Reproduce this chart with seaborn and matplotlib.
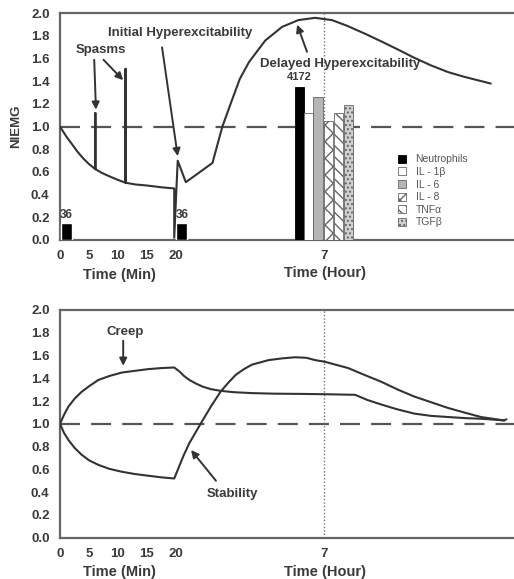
import numpy as np
import pandas as pd
import matplotlib
matplotlib.use("Agg")
import matplotlib.pyplot as plt
import seaborn as sns

# ---------------- data ----------------
# x axis: minutes 0-20, then hour scale; "7 h" sits at x = 45.6
top_x = [0, 1, 2, 3, 4, 5, 6.1, 6.1, 6.1, 7.3, 8.6, 10.0, 11.3, 11.3, 11.3, 13, 15.1, 17.5, 19.7,
         19.7, 20.3, 21.7, 26.3, 27.2, 28.0, 29.7, 31.0, 32.6, 35.4, 38.3, 41.1, 44.0, 46.9,
         49.5, 52.6, 55.5, 58.3, 61.0, 64.0, 67.0, 69.7, 72.0, 74.3]
top_y = [1.00, 0.92, 0.85, 0.78, 0.72, 0.67, 0.625, 1.12, 0.625, 0.59, 0.56, 0.53, 0.505, 1.51, 0.505,
         0.49, 0.48, 0.465, 0.455, 0.02, 0.70, 0.51, 0.68, 0.85, 1.00, 1.24, 1.42, 1.57, 1.76, 1.88, 1.94,
         1.96, 1.94, 1.89, 1.82, 1.75, 1.68, 1.61, 1.54, 1.48, 1.44, 1.41, 1.38]

creep_x = [0, 0.7, 1.43, 2.5, 3.7, 5.0, 6.6, 8.5, 10.6, 12.8, 15.1, 17.5, 19.7,
           20.6, 21.4, 22.3, 23.4, 24.6, 26.0, 27.7, 30.0, 33.1, 37.0, 41.7, 46.0, 50.9,
           53.0, 55.4, 58.0, 61.1, 64.0, 66.9, 70.0, 72.6, 76.6, 77.0]
creep_y = [1.00, 1.08, 1.15, 1.22, 1.28, 1.33, 1.385, 1.42, 1.45, 1.465, 1.48, 1.49, 1.495,
           1.46, 1.42, 1.386, 1.355, 1.327, 1.305, 1.29, 1.278, 1.27, 1.265, 1.263, 1.26, 1.255,
           1.21, 1.17, 1.13, 1.09, 1.07, 1.06, 1.05, 1.045, 1.03, 1.04]

stab_x = [0, 0.7, 1.43, 2.5, 3.7, 5.0, 6.6, 8.5, 10.6, 12.8, 15.1, 17.5, 19.7,
          20.3, 21.3, 22.3, 24.3, 26.0, 27.7, 29.0, 30.3, 31.7, 33.1, 36.0, 38.3, 40.6, 42.5,
          44.0, 45.7, 47.5, 49.7, 52.5, 55.4, 58.3, 61.1, 64.0, 66.9, 69.7, 72.6, 76.6]
stab_y = [1.00, 0.92, 0.86, 0.79, 0.73, 0.68, 0.64, 0.605, 0.58, 0.56, 0.545, 0.53, 0.52,
          0.595, 0.72, 0.83, 1.005, 1.15, 1.283, 1.36, 1.43, 1.48, 1.52, 1.56, 1.575, 1.585, 1.58,
          1.56, 1.545, 1.52, 1.49, 1.43, 1.37, 1.30, 1.24, 1.19, 1.14, 1.10, 1.06, 1.03]

bar_labels = ["Neutrophils", "IL - 1\u03b2", "IL - 6", "IL - 8", "TNF\u03b1", "TGF\u03b2"]
bar_x = [41.25, 42.85, 44.5, 46.35, 48.0, 49.75]
bar_h = [1.35, 1.12, 1.26, 1.05, 1.12, 1.19]
early_bar_x = [1.1, 21.0]
early_bar_h = [0.15, 0.15]

xtick_pos = [0, 5, 10, 15, 20, 45.6]
xtick_lab = ["0", "5", "10", "15", "20", "7"]
ytick_pos = [0.0, 0.2, 0.4, 0.6, 0.8, 1.0, 1.2, 1.4, 1.6, 1.8, 2.0]

# ---------------- style ----------------
sns.set_style("white")
plt.rcParams["font.family"] = ["Liberation Sans", "DejaVu Sans"]
TXT = "#3a3a3a"
LINE = "#333333"

W, H = 514, 579
fig = plt.figure(figsize=(W / 100, H / 100), dpi=100)

def fx(px):
    return px / W

def fy(py):
    return 1 - py / H

ax1 = fig.add_axes([fx(60), fy(240), 1 - fx(60), fy(13.3) - fy(240)])
ax2 = fig.add_axes([fx(60), fy(537.7), 1 - fx(60), fy(310) - fy(537.7)])

for ax in (ax1, ax2):
    ax.set_xlim(0, 78.3)
    ax.set_ylim(0, 2.0)
    ax.set_yticks(ytick_pos)
    ax.set_yticklabels([f"{v:.1f}" for v in ytick_pos])
    ax.set_xticks(xtick_pos)
    ax.set_xticklabels(xtick_lab)
    ax.tick_params(axis="both", direction="out", length=3, width=1, colors="#555555",
                   labelcolor=TXT, labelsize=9.5, pad=4.5)
    for lab in ax.get_xticklabels() + ax.get_yticklabels():
        lab.set_fontweight("bold")
    for s in ["top", "bottom", "left"]:
        ax.spines[s].set_color("#666666")
        ax.spines[s].set_linewidth(1.6)
    ax.spines["right"].set_visible(False)
    ax.axhline(1.0, color="#555555", lw=1.6, dashes=(9, 5), zorder=1)
    ax.axvline(45.6, color="#777777", lw=1.0, ls=(0, (1, 1.5)), zorder=1)

# ---------------- top panel ----------------
top_df = pd.DataFrame({"x": top_x, "y": top_y})
sns.lineplot(data=top_df, x="x", y="y", sort=False, estimator=None, ax=ax1,
             color=LINE, lw=1.5, zorder=4)

ax1.bar(early_bar_x, early_bar_h, width=1.9, color="black", zorder=3)
for bx, bh in zip(early_bar_x, early_bar_h):
    ax1.text(bx, bh + 0.02, "36", ha="center", va="bottom", fontsize=8.5,
             color=TXT, fontweight="bold")

faces = ["black", "white", "#b5b5b5", "white", "white", "#d0d0d0"]
hatches = [None, None, None, "xx", "\\\\\\", "...."]
for i, (bx, bh) in enumerate(zip(bar_x, bar_h)):
    ax1.bar(bx, bh, width=1.6, color=faces[i], edgecolor="#666666" if i else "black",
            hatch=hatches[i], lw=0.6, zorder=3, label=bar_labels[i])
ax1.text(bar_x[0], bar_h[0] + 0.04, "4172", ha="center", va="bottom", fontsize=8,
         color=TXT, fontweight="bold")

leg = ax1.legend(loc="upper left", bbox_to_anchor=(0.728, 0.41), frameon=False,
                 fontsize=7.5, handlelength=0.8, handleheight=0.8, labelspacing=0.25,
                 handletextpad=0.9, borderpad=0.2)
for t in leg.get_texts():
    t.set_color("#555555")

arrow = dict(arrowstyle="-|>", color=LINE, lw=1.4, mutation_scale=11, shrinkA=0, shrinkB=0)
ax1.text(7.0, 1.62, "Spasms", ha="center", va="bottom", fontsize=9.5, fontweight="bold", color=TXT)
ax1.annotate("", xy=(6.2, 1.15), xytext=(5.9, 1.59), arrowprops=arrow)
ax1.annotate("", xy=(10.9, 1.41), xytext=(7.5, 1.59), arrowprops=arrow)
ax1.text(20.8, 1.77, "Initial Hyperexcitability", ha="center", va="bottom", fontsize=9.5,
         fontweight="bold", color=TXT)
ax1.annotate("", xy=(20.3, 0.74), xytext=(17.6, 1.70), arrowprops=arrow)
ax1.text(48.3, 1.50, "Delayed Hyperexcitability", ha="center", va="bottom", fontsize=9.5,
         fontweight="bold", color=TXT)
ax1.annotate("", xy=(40.9, 1.90), xytext=(42.6, 1.66), arrowprops=arrow)

ax1.text(-7.5, 1.0, "NIEMG", rotation=90, ha="center", va="center", fontsize=9.5,
         fontweight="bold", color=TXT)

fig.text(fx(119), fy(275), "Time (Min)", ha="center", va="center", fontsize=10.5,
         fontweight="bold", color=TXT)
fig.text(fx(325), fy(273), "Time (Hour)", ha="center", va="center", fontsize=10.5,
         fontweight="bold", color=TXT)

# ---------------- bottom panel ----------------
creep_df = pd.DataFrame({"x": creep_x, "y": creep_y})
stab_df = pd.DataFrame({"x": stab_x, "y": stab_y})
sns.lineplot(data=creep_df, x="x", y="y", sort=False, estimator=None, ax=ax2,
             color=LINE, lw=1.5, zorder=4)
sns.lineplot(data=stab_df, x="x", y="y", sort=False, estimator=None, ax=ax2,
             color=LINE, lw=1.5, zorder=4)
for ax in (ax1, ax2):
    ax.set_xlabel("")
    ax.set_ylabel("")

ax2.text(11.3, 1.75, "Creep", ha="center", va="bottom", fontsize=9.5, fontweight="bold", color=TXT)
ax2.annotate("", xy=(10.9, 1.51), xytext=(10.9, 1.73), arrowprops=arrow)
ax2.text(29.8, 0.38, "Stability", ha="center", va="center", fontsize=9.5, fontweight="bold", color=TXT)
ax2.annotate("", xy=(22.6, 0.77), xytext=(26.9, 0.50), arrowprops=arrow)

fig.text(fx(119), fy(572), "Time (Min)", ha="center", va="center", fontsize=10.5,
         fontweight="bold", color=TXT)
fig.text(fx(325), fy(572), "Time (Hour)", ha="center", va="center", fontsize=10.5,
         fontweight="bold", color=TXT)

fig.savefig("out.png", dpi=100)
